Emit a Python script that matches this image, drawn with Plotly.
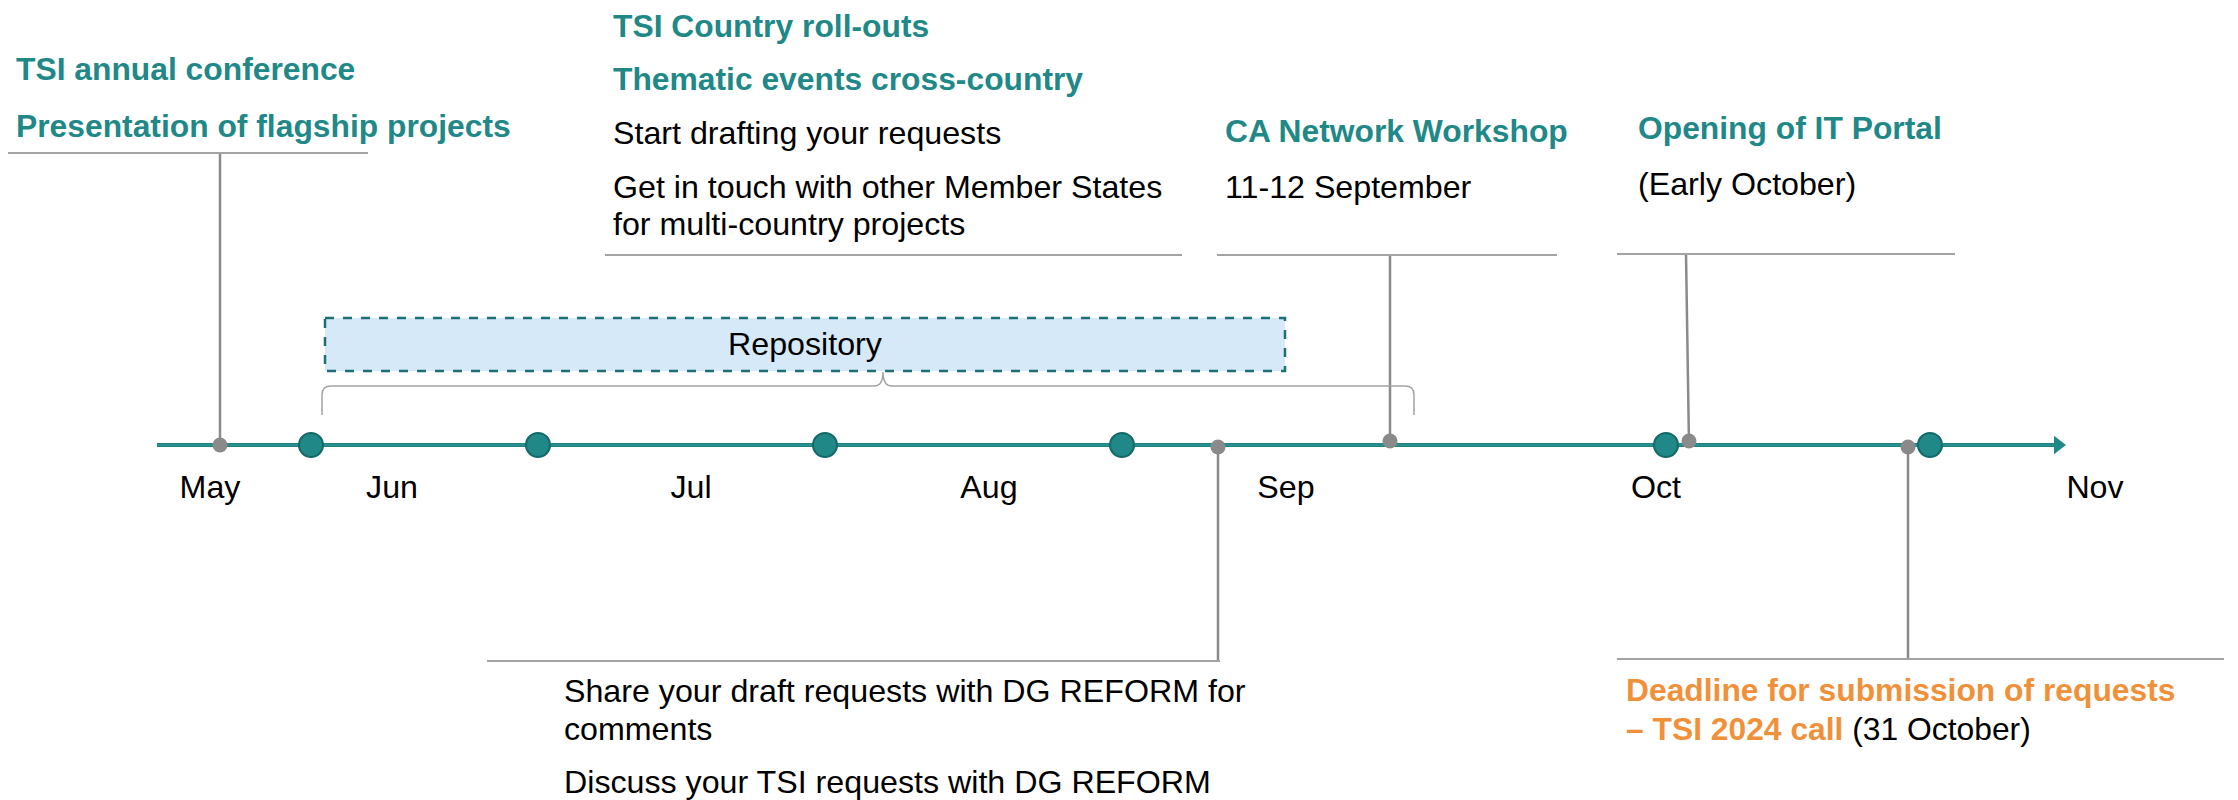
import plotly.graph_objects as go

# ---------------- data (timeline positions) ----------------
months = ["May", "Jun", "Jul", "Aug", "Sep", "Oct", "Nov"]
month_pos = [210, 392, 691, 989, 1286, 1656, 2095]

milestone_pos = [311, 538, 825, 1122, 1666, 1930]

event_names = ["TSI annual conference", "Share draft requests", "CA Network Workshop",
               "Opening of IT Portal", "Submission deadline"]
event_pos = [220, 1218, 1390, 1689, 1908]
event_side = ["above", "below", "above", "above", "below"]

timeline_start = 157
timeline_end = 2066
repository_span = [325, 1285]
brace_span = [322, 1414]

# ---------------- styles ----------------
W, H = 2238, 800
PAGE_MARGIN = 8  # default body margin of the html page
LINE_Y = 445
TEAL = "#218888"
TEAL_DARK = "#146868"
GRAY = "#8a8a8a"
RULE = "#a3a3a3"
ORANGE = "#f0913a"
FONT = "Liberation Sans, Arial, Helvetica, sans-serif"
FS_B = 31.8
FS = 32.2

fig = go.Figure()

# connector lines from events to their text blocks
conn_end = {"above": {220: 153, 1390: 255, 1689: 254}, "below": {1218: 661, 1908: 659}}
conn_top_x = {220: 220, 1390: 1390, 1689: 1686, 1218: 1218, 1908: 1908}
for x, side in zip(event_pos, event_side):
    yend = conn_end[side][x]
    fig.add_trace(go.Scatter(x=[x, conn_top_x[x]], y=[LINE_Y, yend], mode="lines",
                             line=dict(color=GRAY, width=2.5), hoverinfo="skip",
                             showlegend=False))

# timeline axis line with arrow
fig.add_trace(go.Scatter(x=[timeline_start, timeline_end - 12], y=[LINE_Y, LINE_Y], mode="lines",
                         line=dict(color="#1e8282", width=4), hoverinfo="skip", showlegend=False))
fig.add_trace(go.Scatter(x=[timeline_start, timeline_end - 12], y=[LINE_Y, LINE_Y], mode="lines",
                         line=dict(color="#2e9595", width=1.5), hoverinfo="skip", showlegend=False))
fig.add_trace(go.Scatter(x=[timeline_end - 8], y=[LINE_Y], mode="markers",
                         marker=dict(symbol="triangle-right", size=16, color=TEAL,
                                     line=dict(width=0)),
                         hoverinfo="skip", showlegend=False))

# milestone circles
fig.add_trace(go.Scatter(x=milestone_pos, y=[LINE_Y] * len(milestone_pos), mode="markers",
                         marker=dict(size=24, color=TEAL, line=dict(color=TEAL_DARK, width=2)),
                         hoverinfo="skip", showlegend=False))

# event dots
event_dot_y = {"above": LINE_Y - 4, "below": LINE_Y + 2}
fig.add_trace(go.Scatter(x=event_pos,
                         y=[LINE_Y if x == 220 else event_dot_y[s] for x, s in zip(event_pos, event_side)],
                         mode="markers",
                         marker=dict(size=15, color=GRAY, line=dict(width=0)),
                         hoverinfo="skip", showlegend=False))

# month labels
fig.add_trace(go.Scatter(x=month_pos, y=[490] * len(months), mode="text", text=months,
                         textfont=dict(family=FONT, size=FS, color="#000000"),
                         textposition="middle center", hoverinfo="skip", showlegend=False))

# repository box
fig.add_shape(type="rect", x0=repository_span[0], x1=repository_span[1], y0=318, y1=371,
              fillcolor="#d6e9f8", line=dict(color="#1e6e75", width=2.5, dash="dash"), layer="below")
fig.add_annotation(x=(repository_span[0] + repository_span[1]) / 2, y=344, text="Repository",
                   showarrow=False, font=dict(family=FONT, size=FS, color="#000000"))

# brace under repository
bx0, bx1 = brace_span
bm = (bx0 + bx1) / 2 + 15
path = (f"M {bx0},415 L {bx0},395 Q {bx0},386 {bx0+9},386 L {bm-9},386 Q {bm},386 {bm},372 "
        f"Q {bm},386 {bm+9},386 L {bx1-9},386 Q {bx1},386 {bx1},395 L {bx1},415")
fig.add_shape(type="path", path=path, line=dict(color=RULE, width=1.5))

# underline rules for text blocks
rules = [(4, 368, 153), (605, 1182, 255), (1217, 1557, 255), (1617, 1955, 254),
         (487, 1220, 661), (1617, 2224, 659)]
for x0, x1, y in rules:
    fig.add_shape(type="line", x0=x0, x1=x1, y0=y, y1=y, line=dict(color=RULE, width=2))

# text blocks
texts = [
    (14, 69, "<b>TSI annual conference</b>", TEAL, FS_B),
    (14, 126, "<b>Presentation of flagship projects</b>", TEAL, FS_B),
    (611, 26, "<b>TSI Country roll-outs</b>", TEAL, FS_B),
    (611, 79, "<b>Thematic events cross-country</b>", TEAL, FS_B),
    (611, 133, "Start drafting your requests", "#000000", FS),
    (611, 187, "Get in touch with other Member States", "#000000", FS),
    (611, 224, "for multi-country projects", "#000000", FS),
    (1223, 131, "<b>CA Network Workshop</b>", TEAL, FS_B),
    (1223, 187, "11-12 September", "#000000", FS),
    (1636, 128, "<b>Opening of IT Portal</b>", TEAL, FS_B),
    (1636, 184, "(Early October)", "#000000", FS),
    (562, 691, "Share your draft requests with DG REFORM for", "#000000", FS),
    (562, 729, "comments", "#000000", FS),
    (562, 782, "Discuss your TSI requests with DG REFORM", "#000000", FS),
    (1624, 690, "<b>Deadline for submission of requests</b>", ORANGE, FS_B),
    (1624, 729, "<b>– TSI 2024 call</b> <span style='color:#000000'>(31 October)</span>", ORANGE, FS_B),
]
for x, y, t, c, s in texts:
    fig.add_annotation(x=x, y=y, text=t, showarrow=False, xanchor="left", yanchor="middle",
                       font=dict(family=FONT, size=s, color=c))

# the page adds an 8px body margin: size the figure to fit the window and
# offset the axis ranges so slide coordinates land on the same window pixels
fig.update_layout(
    width=W - PAGE_MARGIN, height=H - PAGE_MARGIN,
    margin=dict(l=0, r=0, t=0, b=0),
    paper_bgcolor="white", plot_bgcolor="white",
    xaxis=dict(range=[PAGE_MARGIN, W], visible=False, fixedrange=True),
    yaxis=dict(range=[H, PAGE_MARGIN], visible=False, fixedrange=True),
    showlegend=False,
)

fig.write_html("out.html")
